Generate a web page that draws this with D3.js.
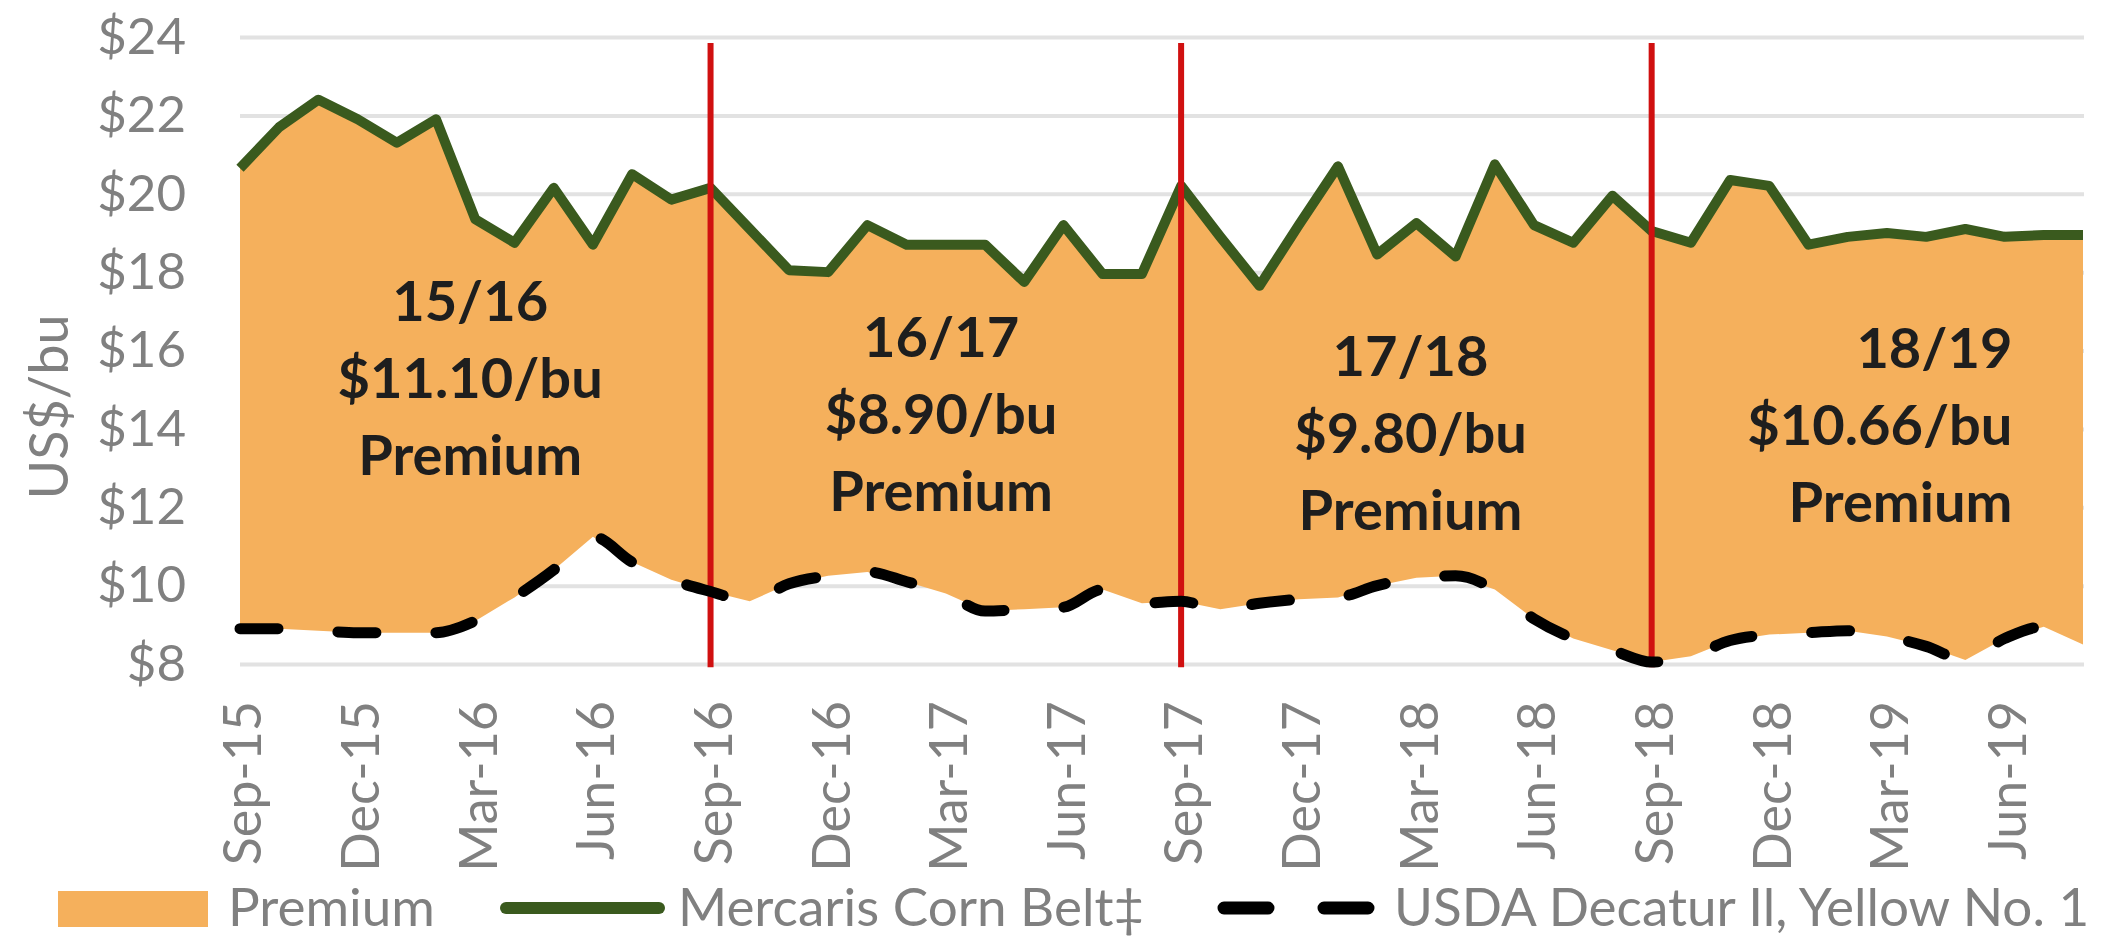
<!DOCTYPE html>
<meta charset="utf-8">
<script src="https://d3js.org/d3.v7.min.js"></script>
<style>
  body { margin: 0; background: #fff; }
  svg { display: block; font-family: Lato, "Open Sans", sans-serif; }
</style>
<div id="my_chart"></div>
<script>
// monthly categories, Sep-15 .. Aug-19
const months = ["Sep-15","Oct-15","Nov-15","Dec-15","Jan-16","Feb-16","Mar-16","Apr-16","May-16","Jun-16","Jul-16","Aug-16",
                "Sep-16","Oct-16","Nov-16","Dec-16","Jan-17","Feb-17","Mar-17","Apr-17","May-17","Jun-17","Jul-17","Aug-17",
                "Sep-17","Oct-17","Nov-17","Dec-17","Jan-18","Feb-18","Mar-18","Apr-18","May-18","Jun-18","Jul-18","Aug-18",
                "Sep-18","Oct-18","Nov-18","Dec-18","Jan-19","Feb-19","Mar-19","Apr-19","May-19","Jun-19","Jul-19","Aug-19"];
const tickLabels = ["Sep-15","Dec-15","Mar-16","Jun-16","Sep-16","Dec-16","Mar-17","Jun-17",
                    "Sep-17","Dec-17","Mar-18","Jun-18","Sep-18","Dec-18","Mar-19","Jun-19"];
const yTicks = [8, 10, 12, 14, 16, 18, 20, 22, 24];

// Mercaris Corn Belt (organic) US$/bu
const mercaris = [20.65,21.7,22.4,21.9,21.3,21.9,19.35,18.75,20.15,18.7,20.5,19.85,
                  20.15,19.1,18.05,18.0,19.2,18.7,18.7,18.7,17.75,19.2,17.95,17.95,
                  20.2,18.9,17.65,19.2,20.7,18.45,19.25,18.4,20.75,19.2,18.75,19.95,
                  19.05,18.75,20.35,20.2,18.7,18.9,19.0,18.9,19.1,18.9,18.95,18.95];
// USDA Decatur Il, Yellow No. 1
const usda = [8.9,8.9,8.85,8.8,8.8,8.8,9.1,9.7,10.4,11.25,10.6,10.15,
              9.85,9.6,10.05,10.25,10.35,10.1,9.8,9.35,9.4,9.45,9.9,9.55,
              9.6,9.4,9.55,9.65,9.7,10.0,10.2,10.25,9.9,9.15,8.65,8.35,
              8.05,8.2,8.6,8.75,8.8,8.85,8.7,8.45,8.1,8.65,8.95,8.5];

const seasonStarts = ["Sep-16", "Sep-17", "Sep-18"];
const seasons = ["15/16", "16/17", "17/18", "18/19"];
const premiums = ["$11.10/bu", "$8.90/bu", "$9.80/bu", "$10.66/bu"];

var width = 2122, height = 936;
var margin = { left: 240, right: 2083, top: 37, bottom: 664 };

var svg = d3.select("#my_chart").append("svg")
    .attr("width", width)
    .attr("height", height);

var x = d3.scalePoint().domain(months).range([margin.left, margin.right]);
// fractional month position, used for placing the season notes
var xi = d3.scaleLinear().domain([0, months.length - 1]).range([margin.left, margin.right]);
var y = d3.scaleLinear().domain([8, 24]).range([margin.bottom, margin.top]);

var rows = months.map(function(m, i) { return { m: m, hi: mercaris[i], lo: usda[i] }; });

// gridlines
svg.append("g")
    .attr("transform", "translate(" + margin.left + ",0)")
    .call(d3.axisLeft(y).tickValues(yTicks).tickSize(-(margin.right - margin.left + 1)).tickFormat(""))
    .call(function(g) { g.select(".domain").remove(); })
    .selectAll("line")
    .attr("stroke", "#e2e2e2")
    .attr("stroke-width", 4);

// y axis labels
svg.append("g")
    .attr("transform", "translate(" + margin.left + ",0)")
    .call(d3.axisLeft(y).tickValues(yTicks).tickSize(0).tickPadding(54).tickFormat(function(d) { return "$" + d; }))
    .call(function(g) { g.select(".domain").remove(); })
    .selectAll("text")
    .attr("fill", "#808080")
    .style("font-size", "51px")
    .style("font-family", "Lato");

// x axis labels, rotated
svg.append("g")
    .attr("transform", "translate(0," + margin.bottom + ")")
    .call(d3.axisBottom(x).tickValues(tickLabels).tickSize(0))
    .call(function(g) { g.select(".domain").remove(); })
    .selectAll("text")
    .attr("fill", "#808080")
    .style("font-size", "52px")
    .style("font-family", "Lato")
    .attr("text-anchor", "end")
    .attr("transform", "rotate(-90)")
    .attr("x", -37)
    .attr("y", 0)
    .attr("dy", "0.4em");

// y axis title
svg.append("text")
    .attr("transform", "translate(49,407) rotate(-90)")
    .attr("text-anchor", "middle")
    .attr("dy", "0.35em")
    .attr("fill", "#808080")
    .style("font-size", "54px")
    .text("US$/bu");

// premium area between the two prices
svg.append("path")
    .datum(rows)
    .attr("fill", "#F5B05C")
    .attr("d", d3.area()
        .x(function(d) { return x(d.m); })
        .y0(function(d) { return y(d.lo); })
        .y1(function(d) { return y(d.hi); }));

// Mercaris line
svg.append("path")
    .datum(rows)
    .attr("fill", "none")
    .attr("stroke", "#3A5A1E")
    .attr("stroke-width", 10)
    .attr("stroke-linejoin", "round")
    .attr("d", d3.line()
        .x(function(d) { return x(d.m); })
        .y(function(d) { return y(d.hi); }));

// marketing year separators
svg.append("g").selectAll("line")
    .data(seasonStarts)
    .join("line")
    .attr("x1", function(d) { return x(d); })
    .attr("x2", function(d) { return x(d); })
    .attr("y1", y(23.85))
    .attr("y2", y(7.92))
    .attr("stroke", "#D01010")
    .attr("stroke-width", 6);

// USDA line, dashed
svg.append("path")
    .datum(rows)
    .attr("fill", "none")
    .attr("stroke", "#000")
    .attr("stroke-width", 11)
    .attr("stroke-linecap", "round")
    .attr("stroke-dasharray", "38,60")
    .attr("d", d3.line()
        .curve(d3.curveMonotoneX)
        .x(function(d) { return x(d.m); })
        .y(function(d) { return y(d.lo); }));

// season notes
var notePlace = [
    { pos: 5.87, val: 16.76, anchor: "middle" },
    { pos: 17.88, val: 15.84, anchor: "middle" },
    { pos: 29.85, val: 15.35, anchor: "middle" },
    { pos: 45.2, val: 15.56, anchor: "end" }
];
var notes = svg.append("g")
    .style("font-weight", "bold")
    .style("font-size", "56px")
    .attr("fill", "#1e1e1e");
seasons.forEach(function(s, i) {
    var p = notePlace[i];
    var t = notes.append("text")
        .attr("text-anchor", p.anchor)
        .attr("x", xi(p.pos))
        .attr("y", y(p.val));
    [s, premiums[i], "Premium"].forEach(function(line, k) {
        t.append("tspan")
            .attr("x", xi(p.pos))
            .attr("dy", k === 0 ? 0 : 77)
            .text(line);
    });
});

// legend
var legend = svg.append("g");
legend.append("rect")
    .attr("x", 58).attr("y", 891)
    .attr("width", 150).attr("height", 36)
    .attr("fill", "#F5B05C");
legend.append("line")
    .attr("x1", 506).attr("x2", 659)
    .attr("y1", 908).attr("y2", 908)
    .attr("stroke", "#3A5A1E")
    .attr("stroke-width", 12)
    .attr("stroke-linecap", "round");
legend.append("line")
    .attr("x1", 1224).attr("x2", 1368)
    .attr("y1", 908).attr("y2", 908)
    .attr("stroke", "#000")
    .attr("stroke-width", 13)
    .attr("stroke-linecap", "round")
    .attr("stroke-dasharray", "44,56");
var legendText = [
    { x: 228, t: "Premium" },
    { x: 678, t: "Mercaris Corn Belt\u2021" },
    { x: 1394, t: "USDA Decatur Il, Yellow No. 1" }
];
legend.selectAll("text")
    .data(legendText)
    .join("text")
    .attr("x", function(d) { return d.x; })
    .attr("y", 926)
    .attr("fill", "#808080")
    .style("font-size", "53px")
    .text(function(d) { return d.t; });
</script>
